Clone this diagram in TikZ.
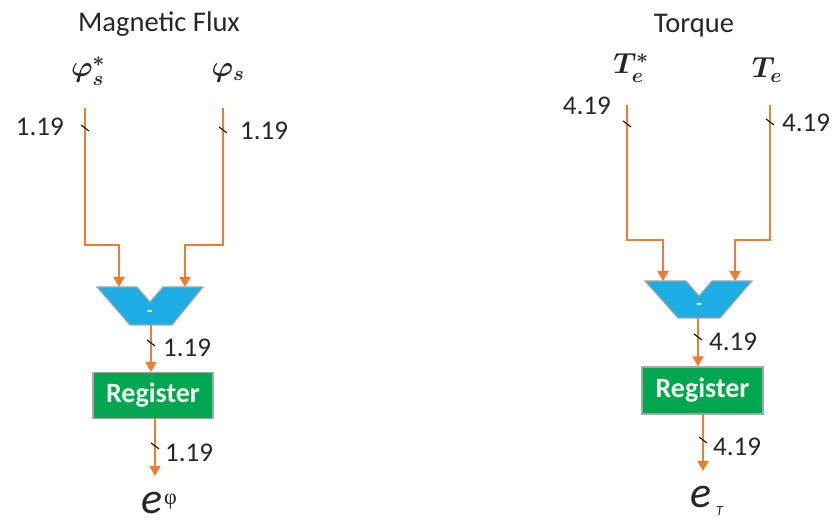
\RequirePackage{fix-cm}
\documentclass[tikz,border=0pt]{standalone}
\usepackage{fontspec}
\setmainfont{Carlito}
\newfontfamily\greekserif{Liberation Serif}
\usetikzlibrary{arrows.meta}
\definecolor{wireorange}{HTML}{ED7D31}
\definecolor{subblue}{HTML}{1CADE4}
\definecolor{reggreen}{HTML}{00A650}
\definecolor{edgegrey}{HTML}{A6A6A6}
\definecolor{inktext}{HTML}{262626}
\definecolor{regtext}{HTML}{F0FAF0}

\tikzset{
  wire/.style={draw=wireorange, line width=2pt},
  arrowwire/.style={wire, -{Triangle[length=10pt,width=11pt]}},
  busnum/.style={font=\fontsize{27}{30}\selectfont, text=inktext, inner sep=0pt},
  heading/.style={font=\fontsize{28.5}{32}\selectfont, text=inktext, inner sep=0pt},
  sym/.style={font=\fontsize{29}{33}\selectfont\boldmath, text=inktext, inner sep=0pt},
  regbox/.style={fill=reggreen, draw=edgegrey, line width=1.2pt,
    minimum width=120pt, minimum height=46pt, inner sep=0pt,
    text=regtext, font=\bfseries\fontsize{28}{30}\selectfont},
  subtr/.style={fill=subblue, draw=edgegrey, line width=1.2pt},
  tickmark/.style={draw=black, line width=1pt},
  outsym/.style={font=\itshape\fontsize{44}{48}\selectfont, text=inktext,
    inner sep=0pt, text height=20pt, text depth=0pt},
  outsup/.style={font=\greekserif\fontsize{22}{22}\selectfont, text=inktext, inner sep=0pt},
  outsub/.style={font=\itshape\fontsize{14}{14}\selectfont, text=inktext, inner sep=0pt},
}
% short slash across a bus line
\newcommand\bustick[1]{\draw[tickmark] (#1) ++(-4,-3) -- ++(8,6);}

\begin{document}
\begin{tikzpicture}[x=1pt,y=-1pt]
\useasboundingbox (0,0) rectangle (838,521);

% ---------------- Magnetic flux path ----------------
\node[heading] (fluxtitle) at (159,24) {Magnetic Flux};
\node[sym] (phiref) at (88,71) {$\varphi_s^*$};
\node[sym] (phimeas) at (228,73) {$\varphi_s$};

\coordinate (fa) at (85,108);
\coordinate (fb) at (223,108);
\coordinate (fai) at (119,287);
\coordinate (fbi) at (185,287);

\draw[subtr] (97,287) -- (137,287) -- (150,302) -- (163,287) -- (203,287)
  -- (172,325) -- (130,325) -- cycle;
\node[text=white, font=\bfseries\fontsize{18}{20}\selectfont, inner sep=0pt] (fluxminus) at (150,313) {-};
\coordinate (fsub) at (151,325);

\node[regbox] (fluxreg) at (153,395.5) {Register};
\coordinate (fregout) at (155,418);
\node[outsym, anchor=base west] (fluxout) at (141,513) {e};
\node[outsup, anchor=base west] (fluxoutsup) at (164,504) {φ};

\draw[arrowwire] (fa) -- ++(0,137) -| (fai);
\draw[arrowwire] (fb) -- ++(0,137) -| (fbi);
\draw[arrowwire] (fsub) -- (fsub |- fluxreg.north);
\draw[arrowwire] (fregout) -- (155,476);

\bustick{85,128}
\bustick{223,130}
\bustick{151,343}
\bustick{155,446}
\node[busnum, anchor=east] (fna) at (64,127) {1.19};
\node[busnum, anchor=west] (fnb) at (240,131) {1.19};
\node[busnum, anchor=west] (fnc) at (163,348) {1.19};
\node[busnum, anchor=west] (fnd) at (165,453) {1.19};

% ---------------- Torque path ----------------
\node[heading] (torquetitle) at (694,26) {Torque};
\node[sym] (tref) at (631,68) {$T_e^*$};
\node[sym] (tmeas) at (767,70) {$T_e$};

\coordinate (ta) at (627,105);
\coordinate (tb) at (770,105);
\coordinate (tai) at (663,281);
\coordinate (tbi) at (735,281);

\draw[subtr] (645,281) -- (686,281) -- (699,296) -- (712,281) -- (752,281)
  -- (720,318) -- (678,318) -- cycle;
\node[text=white, font=\bfseries\fontsize{18}{20}\selectfont, inner sep=0pt] (torqueminus) at (699,306) {-};
\coordinate (tsub) at (698,318);

\node[regbox, minimum width=121pt, minimum height=47pt] (torquereg) at (702.5,390.5) {Register};
\coordinate (tregout) at (703,414);
\node[outsym, anchor=base west] (torqueout) at (690,507) {e};
\node[outsub, anchor=base west] (torqueoutsub) at (716,515) {T};

\draw[arrowwire] (ta) -- ++(0,135) -| (tai);
\draw[arrowwire] (tb) -- ++(0,135) -| (tbi);
\draw[arrowwire] (tsub) -- (tsub |- torquereg.north);
\draw[arrowwire] (tregout) -- (703,471);

\bustick{627,124}
\bustick{770,122}
\bustick{698,337}
\bustick{703,440}
\node[busnum, anchor=east] (tna) at (611,106) {4.19};
\node[busnum, anchor=west] (tnb) at (782,123) {4.19};
\node[busnum, anchor=west] (tnc) at (709,342) {4.19};
\node[busnum, anchor=west] (tnd) at (713,447) {4.19};
\end{tikzpicture}
\end{document}
